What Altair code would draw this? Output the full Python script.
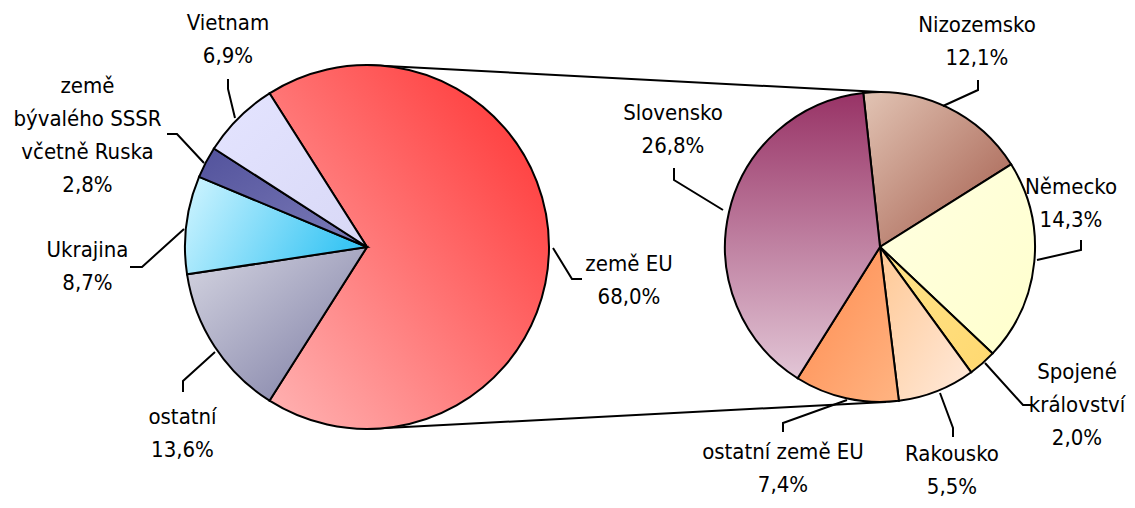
import math
import altair as alt
import pandas as pd

# ---------------- data ----------------
left_names = ["země EU", "ostatní", "Ukrajina", "země bývalého SSSR včetně Ruska", "Vietnam"]
left_label_lines = ["země EU", "ostatní", "Ukrajina", "země\nbývalého SSSR\nvčetně Ruska", "Vietnam"]
left_values = [68.0, 13.6, 8.7, 2.8, 6.9]

right_names = ["Nizozemsko", "Německo", "Spojené království", "Rakousko", "ostatní země EU", "Slovensko"]
right_label_lines = ["Nizozemsko", "Německo", "Spojené\nkrálovství", "Rakousko", "ostatní země EU", "Slovensko"]
right_values = [12.1, 14.3, 2.0, 5.5, 7.4, 26.8]

# ---------------- layout (window pixel coords) ----------------
W, H = 1119, 492
OFF = 8
LEFT_C, LEFT_R, LEFT_START = (367, 247), 182, -32.4
RIGHT_C, RIGHT_R, RIGHT_START = (880, 247), 155, -6.2

# centre of the first text line of each label
left_label_xy = [(629, 264), (182.5, 417), (87.5, 250), (87.5, 86), (228, 23)]
right_label_xy = [(977, 25), (1071, 187), (1077, 372), (952, 454), (783, 452), (673, 113)]
LINE_H = 33

left_leaders = [
    [(582, 279), (572, 279), (553, 248)],
    [(183, 392), (183, 381), (215, 352)],
    [(130, 267), (142, 267), (184, 229)],
    [(167, 134), (177, 134), (204, 163)],
    [(228, 79), (228, 89), (235, 118)],
]
right_leaders = [
    [(978, 80), (978, 90), (943, 106)],
    [(1081, 240), (1081, 250), (1037, 260)],
    [(1033, 405), (1023, 405), (985, 363)],
    [(953, 437), (953, 428), (940, 393)],
    [(783, 432), (783, 423), (847, 400)],
    [(674, 168), (674, 180), (723, 210)],
]

FONT = "Liberation Sans Narrow, Arial Narrow, DejaVu Sans Condensed, sans-serif"


def grad(c0, c1, x1, y1, x2, y2):
    return {"gradient": "linear", "x1": x1, "y1": y1, "x2": x2, "y2": y2,
            "stops": [{"offset": 0, "color": c0}, {"offset": 1, "color": c1}]}


left_fills = [
    grad("#FFB4B4", "#FF2E2E", 0, 1, 1, 0),
    grad("#D6D6E2", "#7A7AA2", 0, 0, 1, 1),
    grad("#D2F5FF", "#3CC6F4", 0, 0, 1, 0.3),
    grad("#52529C", "#7C7CB8", 0, 0, 1, 1),
    grad("#E4E4FF", "#D8D8F6", 0, 0, 1, 1),
]
right_fills = [
    grad("#E2C4B4", "#A25A4A", 0, 0, 1, 1),
    grad("#FFFFE2", "#FFFFCC", 0, 0, 1, 1),
    grad("#FFE48A", "#FFD870", 0, 0, 1, 1),
    grad("#FFC894", "#FFEADC", 0, 0, 1, 1),
    grad("#FF8A4E", "#FFB482", 0, 0, 1, 1),
    grad("#983366", "#E2C6D6", 0, 0, 0, 1),
]


def pct(v):
    return f"{v:.1f}".replace(".", ",") + "%"


def pie(values, fills, center, r, start_deg):
    df = pd.DataFrame({"value": values, "idx": list(range(len(values)))})
    total = sum(values)
    a0 = math.radians(start_deg)
    cond = [{"test": f"datum.idx === {i}", "value": f} for i, f in enumerate(fills)]
    return alt.Chart(df).mark_arc(stroke="black", strokeWidth=2, outerRadius=r).encode(
        theta=alt.Theta("value:Q", stack=True,
                        scale=alt.Scale(domain=[0, total], range=[a0, a0 + 2 * math.pi])),
        order=alt.Order("idx:Q"),
        fill=alt.FillValue("#ffffff", condition=cond),
        x=alt.value(center[0] - OFF),
        y=alt.value(center[1] - OFF),
    )


left_pie = pie(left_values, left_fills, LEFT_C, LEFT_R, LEFT_START)
right_pie = pie(right_values, right_fills, RIGHT_C, RIGHT_R, RIGHT_START)

# labels
lab_rows = []
for lines, v, (lx, ly) in zip(left_label_lines + right_label_lines,
                              left_values + right_values,
                              left_label_xy + right_label_xy):
    lab_rows.append({"label": lines + "\n" + pct(v), "lx": lx - OFF, "ly": ly - OFF})
labels = alt.Chart(pd.DataFrame(lab_rows)).mark_text(
    font=FONT, fontSize=22, lineBreak="\n", lineHeight=LINE_H,
    align="center", baseline="middle", color="black"
).encode(
    x=alt.X("lx:Q", scale=None, axis=None),
    y=alt.Y("ly:Q", scale=None, axis=None),
    text="label:N",
)

# leader lines
lead_rows = []
for name, pts in zip(left_names + right_names, left_leaders + right_leaders):
    for i, (px, py) in enumerate(pts):
        lead_rows.append({"name": name, "pt": i, "px": px - OFF, "py": py - OFF})
leaders = alt.Chart(pd.DataFrame(lead_rows)).mark_line(color="black", strokeWidth=2).encode(
    x=alt.X("px:Q", scale=None, axis=None),
    y=alt.Y("py:Q", scale=None, axis=None),
    detail="name:N",
    order="pt:Q",
)

# connector lines between the pies
conn = pd.DataFrame({
    "x1": [LEFT_C[0] - OFF, LEFT_C[0] - OFF],
    "y1": [LEFT_C[1] - LEFT_R - OFF, LEFT_C[1] + LEFT_R - OFF],
    "x2": [RIGHT_C[0] - OFF, RIGHT_C[0] + 6 - OFF],
    "y2": [RIGHT_C[1] - RIGHT_R - OFF, RIGHT_C[1] + RIGHT_R - OFF],
})
connectors = alt.Chart(conn).mark_rule(color="black", strokeWidth=2).encode(
    x=alt.X("x1:Q", scale=None, axis=None),
    y=alt.Y("y1:Q", scale=None, axis=None),
    x2="x2:Q",
    y2="y2:Q",
)

chart = alt.layer(connectors, left_pie, right_pie, leaders, labels).resolve_scale(
    theta="independent"
).properties(
    width=W, height=H, padding=0, autosize="none", background="white"
).configure_view(stroke=None)

chart.save("out.html", embed_options={"renderer": "svg", "actions": False})
